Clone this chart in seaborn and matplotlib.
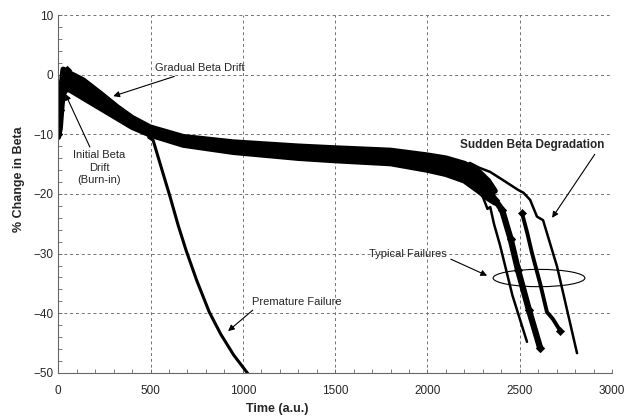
import numpy as np
import pandas as pd
import seaborn as sns
import matplotlib.pyplot as plt
from matplotlib.patches import Ellipse
from matplotlib.ticker import MultipleLocator


# data
# main band (all devices overlapping): upper and lower edges
band_x = [0, 10, 20, 27, 45, 65, 135, 227, 319, 400, 498, 677, 947, 1300, 1500, 1800, 2000, 2100, 2200, 2280, 2330, 2366]
band_upper = [-9.5, -4, -1.0, 0.9, 0.6, 0.2, -0.9, -3.1, -5.4, -7.2, -8.8, -10.4, -11.3, -12.0, -12.3, -12.7, -13.5, -14.0, -14.9, -16.3, -17.8, -19.5]
band_lower = [-10.5, -9, -5, -3.2, -2.4, -2.6, -3.9, -5.6, -7.3, -8.8, -10.1, -11.8, -13.0, -14.0, -14.4, -14.9, -16.0, -16.7, -17.8, -19.6, -20.8, -21.5]

# burn-in rise
burnin_x = [0, 8, 15, 25, 35, 50]
burnin_y = [-10, -6, -3, -1, 0.5, 0.8]

# premature failure
premature_x = [490, 514, 540, 570, 606, 650, 693, 750, 818, 880, 950, 1024, 1050]
premature_y = [-10.5, -11, -13.7, -16.8, -20.5, -25.3, -29.5, -34.5, -39.8, -43.5, -47, -50, -51.2]

# sudden beta degradation (rightmost)
sudden_x = [2190, 2230, 2280, 2339, 2400, 2490, 2520, 2556, 2593, 2626, 2702, 2810]
sudden_y = [-15.5, -14.8, -15.6, -16.3, -17.5, -19.3, -19.8, -21.0, -23.8, -24.4, -32.2, -46.7]

# typical failures
fail1_x = [2250, 2300, 2325, 2340, 2360, 2393, 2460, 2539]
fail1_y = [-18.5, -20.5, -22.5, -22.2, -25, -28.6, -37, -44.8]

fail2_x = [2340, 2366, 2404, 2450, 2490, 2550, 2610]
fail2_y = [-20.0, -21.0, -22.7, -27.5, -32.7, -39.5, -45.8]

fail3_x = [2512, 2540, 2566, 2610, 2647, 2680, 2720]
fail3_y = [-23.2, -26.5, -29.9, -35, -39.8, -41, -43]


sns.set_style("ticks")
plt.rcParams['font.family'] = ['Liberation Sans', 'DejaVu Sans']

fig, ax = plt.subplots(figsize=(6.33, 4.18), dpi=100)
fig.subplots_adjust(left=0.092, right=0.967, top=0.964, bottom=0.108)

mk = dict(markeredgecolor='black', markerfacecolor='black')

ax.fill_between(band_x, band_lower, band_upper, color='black', lw=0)
sns.lineplot(ax=ax, x=band_x, y=band_upper, color='black', lw=4, sort=False)
sns.lineplot(ax=ax, x=band_x, y=band_lower, color='black', lw=4, sort=False)
sns.lineplot(ax=ax, x=burnin_x, y=burnin_y, color='black', lw=2, marker='D', markersize=4, sort=False, **mk)

sns.lineplot(ax=ax, x=premature_x, y=premature_y, color='black', lw=2.2, sort=False)
sns.lineplot(ax=ax, x=sudden_x, y=sudden_y, color='black', lw=1.8, sort=False)
sns.lineplot(ax=ax, x=fail1_x, y=fail1_y, color='black', lw=1.8, sort=False)
sns.lineplot(ax=ax, x=fail2_x, y=fail2_y, color='black', lw=4.5, marker='D', markersize=4.5, sort=False, **mk)
sns.lineplot(ax=ax, x=fail3_x, y=fail3_y, color='black', lw=2.8, sort=False)
sns.scatterplot(ax=ax, x=[fail3_x[0], fail3_x[-1]], y=[fail3_y[0], fail3_y[-1]], color='black', edgecolor='black', marker='D', s=18)

ax.add_patch(Ellipse((2604, -34.1), 497, 2.9, fill=False, lw=0.8, color='black'))

ax.set_xlim(0, 3000)
ax.set_ylim(-50, 10)
ax.xaxis.set_major_locator(MultipleLocator(500))
ax.xaxis.set_minor_locator(MultipleLocator(100))
ax.yaxis.set_major_locator(MultipleLocator(10))
ax.yaxis.set_minor_locator(MultipleLocator(2))
ax.grid(True, which='major', ls=(0, (3, 3)), color='0.45', lw=0.7)
ax.tick_params(which='both', direction='in', length=3, width=0.6, color='0.4', labelsize=8.5)
ax.tick_params(axis='x', pad=9)
for s in ['top', 'right']:
    ax.spines[s].set_visible(False)
for s in ['left', 'bottom']:
    ax.spines[s].set_color('0.4')
    ax.spines[s].set_linewidth(0.8)

ax.set_xlabel('Time (a.u.)', fontsize=9, fontweight='bold')
ax.set_ylabel('% Change in Beta', fontsize=9, fontweight='bold')
ax.xaxis.set_label_coords(0.395, -0.085)
ax.yaxis.set_label_coords(-0.06, 0.54)

arrow = dict(arrowstyle='-|>', color='black', lw=0.8, mutation_scale=9, shrinkA=0, shrinkB=0)
ax.annotate('Gradual Beta Drift', xy=(298, -3.6), xytext=(525, 1.1), fontsize=8, ha='left', va='center', arrowprops=arrow)
ax.annotate('Initial Beta\nDrift\n(Burn-in)', xy=(38, -3.2), xytext=(222, -15.6), fontsize=8, ha='center', va='center',
            linespacing=1.3, arrowprops=dict(arrow, relpos=(0.35, 1.0)))
ax.annotate('Premature Failure', xy=(920, -43), xytext=(1050, -38.1), fontsize=8, ha='left', va='center',
            arrowprops=dict(arrow, relpos=(0.05, 0.0)))
ax.annotate('Typical Failures', xy=(2323, -33.7), xytext=(1895, -30.1), fontsize=8, ha='center', va='center',
            arrowprops=dict(arrow, relpos=(1.05, 0.0)))
ax.annotate('Sudden Beta Degradation', xy=(2675, -24.0), xytext=(2566, -11.8), fontsize=8.5, fontweight='bold',
            ha='center', va='center', arrowprops=dict(arrow, relpos=(0.95, 0.0)))

fig.savefig('out.png', dpi=100)
